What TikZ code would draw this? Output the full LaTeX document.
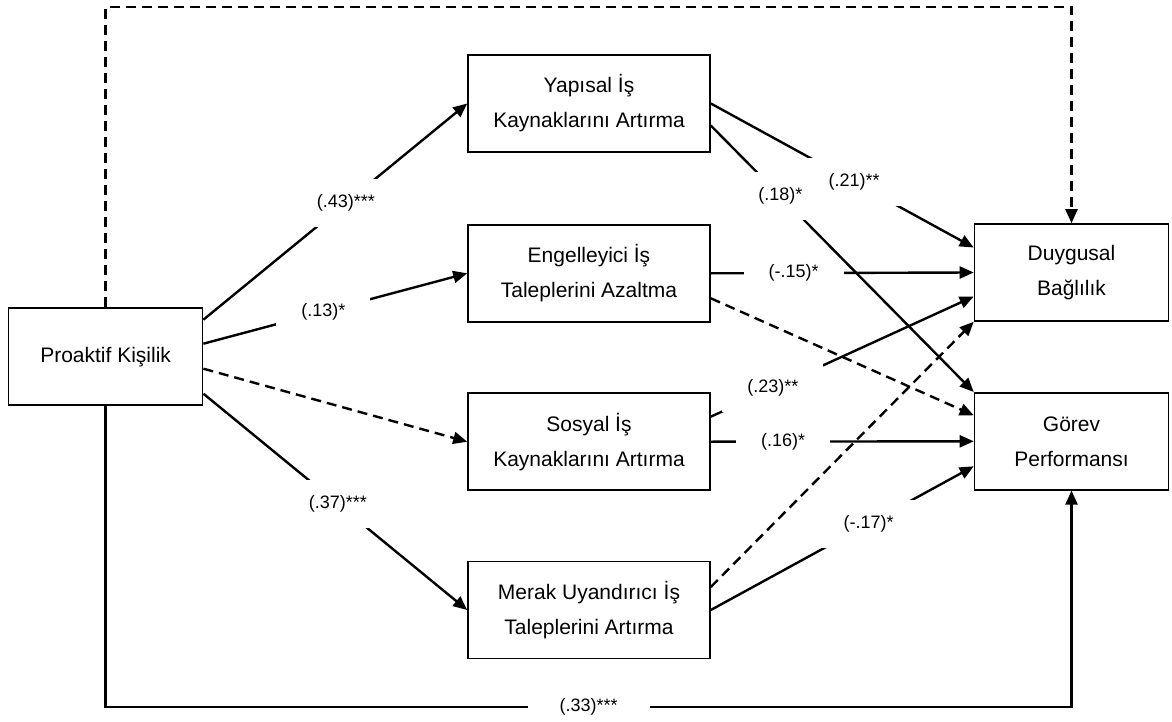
\documentclass[tikz,border=0pt]{standalone}
\usepackage{fontspec}
\setmainfont{Liberation Sans}
\usetikzlibrary{arrows.meta}

\begin{document}
\begin{tikzpicture}[x=1pt,y=-1pt,
    box/.style={draw,line width=1.6pt,minimum width=242pt,minimum height=97pt,align=center,font=\fontsize{21}{35}\selectfont},
    conn/.style={line width=2.4pt,-{Triangle[length=14pt,width=12pt]}},
    dashes/.style={dash pattern=on 10pt off 6pt},
    coef/.style={fill=white,inner xsep=25pt,inner ysep=15.5pt,font=\fontsize{18}{18}\selectfont},
    hcoef/.style={coef,inner ysep=2pt}]
    \useasboundingbox (0,0) rectangle (1172,722);
    % boxes
    \node[box,minimum width=194pt] (pk) at (105.6,356.7) {Proaktif Kişilik};
    \node[box] (ys) at (589,103.5) {Yapısal İş\\Kaynaklarını Artırma};
    \node[box] (eg) at (589,273.3) {Engelleyici İş\\Taleplerini Azaltma};
    \node[box] (ss) at (589,441.7) {Sosyal İş\\Kaynaklarını Artırma};
    \node[box] (mr) at (589,610) {Merak Uyandırıcı İş\\Taleplerini Artırma};
    \node[box,minimum width=194pt] (db) at (1071.5,272.5) {Duygusal\\Bağlılık};
    \node[box,minimum width=194pt] (gp) at (1071.5,441.3) {Görev\\Performansı};
    % corners
    \coordinate (tl) at (105.6,7.3);
    \coordinate (bl) at (105.6,706.7);
    % left paths
    \draw[conn] ([yshift=37pt]pk.east) -- node[coef,pos=0.54] {(.43)***} (ys.west);
    \draw[conn] ([yshift=13pt]pk.east) -- node[coef,pos=0.455] {(.13)*} (eg.west);
    \draw[conn,dashes] ([yshift=-12pt]pk.east) -- (ss.west);
    \draw[conn] ([yshift=-37pt]pk.east) -- node[coef,pos=0.51] {(.37)***} (mr.west);
    % right paths
    \draw[conn] (eg.east) -- node[hcoef,pos=0.315] {(-.15)*} (db.west);
    \draw[conn] (ss.east) -- node[hcoef,pos=0.275] {(.16)*} (gp.west);
    \draw[conn] (ys.east) -- node[coef,pos=0.545] {(.21)**} ([yshift=25pt]db.west);
    \draw[conn] ([yshift=-22pt]ys.east) -- node[coef,pos=0.265] {(.18)*} (gp.north west);
    \draw[conn,dashes] ([yshift=-25pt]eg.east) -- ([yshift=26pt]gp.west);
    \draw[conn] ([yshift=25pt]ss.east) -- node[coef,pos=0.236] {(.23)**} ([yshift=-24pt]db.west);
    \draw[conn,dashes] ([yshift=23pt]mr.east) -- (db.south west);
    \draw[conn] (mr.east) -- node[coef,pos=0.6] {(-.17)*} ([yshift=-25pt]gp.west);
    % direct paths
    \draw[conn,dashes] (pk.north) -- (tl) -| (db.north);
    \draw[conn] (pk.south) -- (bl) -| node[hcoef,pos=0.25,inner xsep=32pt] {(.33)***} (gp.south);
\end{tikzpicture}
\end{document}
